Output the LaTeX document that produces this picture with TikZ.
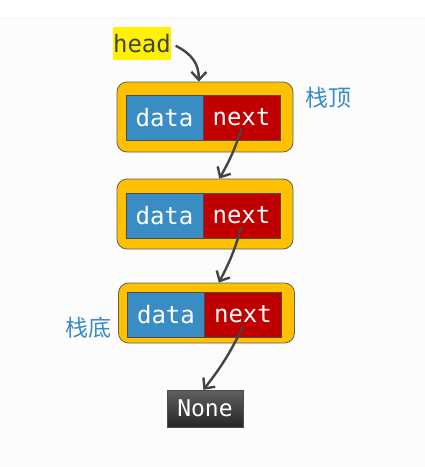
\documentclass[tikz,border=0pt]{standalone}
\usepackage{fontspec}
\setmonofont{DejaVu Sans Mono}
\newfontfamily\cjk{Noto Sans CJK SC}
\usepackage{xcolor}
\usetikzlibrary{arrows.meta}

\definecolor{boxorange}{HTML}{FFC000}
\definecolor{datablue}{HTML}{3A8CC4}
\definecolor{nextred}{HTML}{C00000}
\definecolor{ptrgray}{HTML}{444444}
\definecolor{tagblue}{HTML}{3A8CC4}

\begin{document}
\begin{tikzpicture}[x=1pt,y=-1pt,
	outer/.style={draw=gray!75!black,fill=boxorange,rounded corners=10pt,line width=0.8pt,minimum width=176pt,inner sep=0pt},
	field/.style={draw=gray!60!black,minimum width=77pt,minimum height=45pt,inner sep=0pt,text=white,font=\fontsize{24}{26}\ttfamily},
	ptr/.style={draw=ptrgray,line width=2.4pt,-{Straight Barb[length=8pt,width=15pt]}}]
	\useasboundingbox (0,0) rectangle (425,467);
	\fill[gray!2] (0,18) rectangle (425,467);
	\draw[blue!4!gray!10] (0,18) -- (425,18);
	
	\node[fill=yellow,inner sep=0pt,minimum width=58pt,minimum height=33pt,text=ptrgray,font=\fontsize{24}{26}\ttfamily] (H) at (142,43.5) {head};
	
	\begin{scope}[every node/.style={outer}]
		\node[minimum height=70pt] (O1) at (205,117) {};
		\node[minimum height=70pt] (O2) at (205,214) {};
		\node[minimum height=60pt] (O3) at (206.5,313) {};
	\end{scope}
	
	\begin{scope}[every node/.style={field}]
		\node[fill=datablue] (D1) at (164.5,117.5) {data};
		\node[fill=nextred] (N1) at (241.5,117.5) {next};
		\node[fill=datablue] (D2) at (164.5,215.5) {data};
		\node[fill=nextred] (N2) at (241.5,215.5) {next};
		\node[fill=datablue] (D3) at (166,314.5) {data};
		\node[fill=nextred] (N3) at (243,314.5) {next};
	\end{scope}
	
	\node[draw=gray!60!black,top color=gray!75!black,bottom color=black!85,minimum width=76pt,minimum height=37pt,inner sep=0pt,text=white,font=\fontsize{23}{25}\ttfamily] (None) at (205,408.5) {None};
	
	\node[text=tagblue,font=\fontsize{23}{26}\cjk] (Top) at (328,98) {栈顶};
	\node[text=tagblue,font=\fontsize{23}{26}\cjk] (Bot) at (89,328) {栈底};
	
	\path[ptr,shorten <=5pt] (H.east) .. controls (192,54) and (199,64) .. (O1.100);
	\path[ptr] ([yshift=-11pt]N1.center) to[bend left=6] (O2.68);
	\path[ptr] ([yshift=-11pt]N2.center) to[bend left=6] (O3.68);
	\path[ptr] ([yshift=-12pt]N3.center) to[bend left=6] (None.95);
\end{tikzpicture}
\end{document}
